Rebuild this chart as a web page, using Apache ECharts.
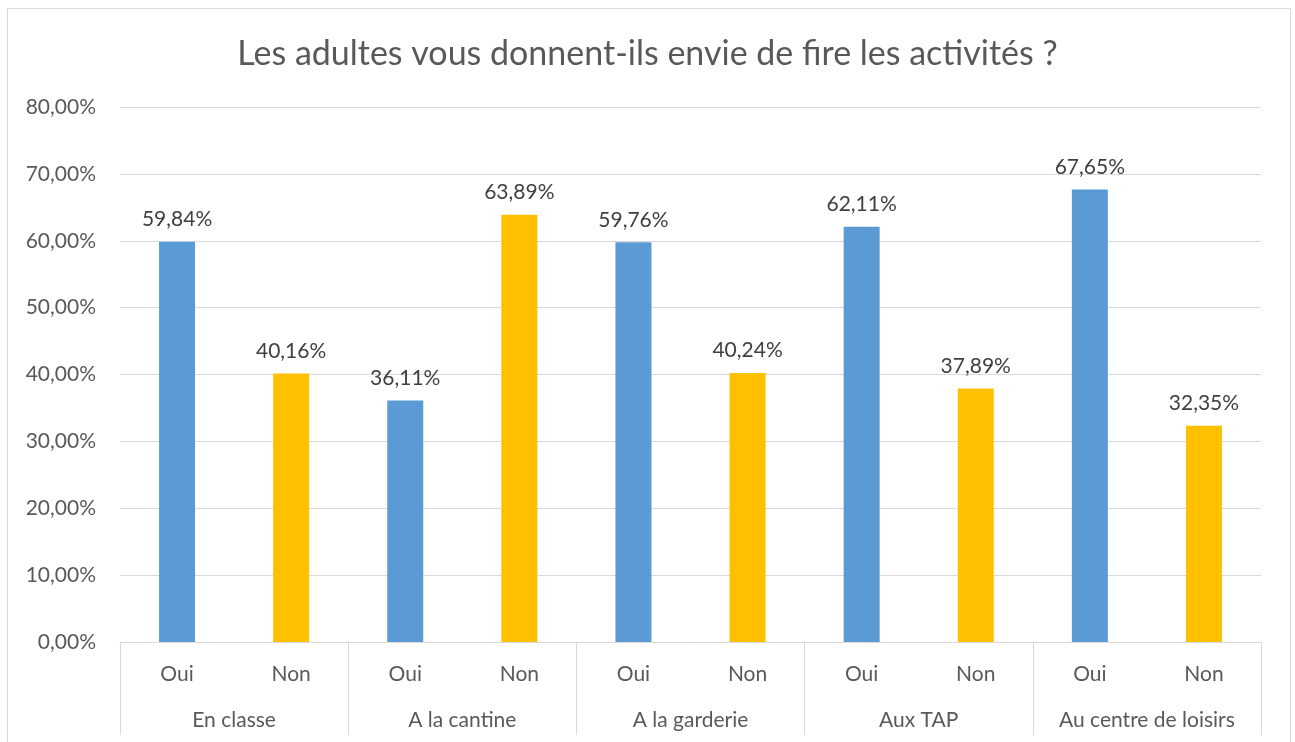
<!DOCTYPE html>
<html>
<head>
<meta charset="utf-8">
<script src="https://cdn.jsdelivr.net/npm/echarts@6/dist/echarts.min.js"></script>
<style>
html,body{margin:0;padding:0;background:#fff;}
#chart{width:1295px;height:742px;}
</style>
</head>
<body>
<div id="chart"></div>
<script>
const titleText = "Les adultes vous donnent-ils envie de fire les activités ?";
const answers = ["Oui","Non","Oui","Non","Oui","Non","Oui","Non","Oui","Non"];
const groups = ["En classe","A la cantine","A la garderie","Aux TAP","Au centre de loisirs"];
const values = [59.84,40.16,36.11,63.89,59.76,40.24,62.11,37.89,67.65,32.35];
const yTicks = {min:0,max:80,interval:10};

const fmt = v => v.toFixed(2).replace('.',',') + '%';
const FONT = 'Lato';
const chart = echarts.init(document.getElementById('chart'));
chart.setOption({
  animation:false,
  backgroundColor:'#fff',
  textStyle:{fontFamily:FONT},
  title:{text:titleText,left:'center',top:32,
    textStyle:{fontFamily:FONT,fontSize:34,fontWeight:'normal',color:'#595959'}},
  graphic:[{type:'rect',shape:{x:7.5,y:8.5,width:1283,height:745},
    style:{fill:'none',stroke:'#d9d9d9',lineWidth:1},silent:true}],
  grid:{left:120,right:34,top:107,bottom:100,containLabel:false},
  xAxis:[{
    type:'category',data:answers,
    axisLine:{show:true,lineStyle:{color:'#d9d9d9',width:1}},
    axisTick:{show:false},
    axisLabel:{interval:0,margin:22,fontSize:21,color:'#595959',fontFamily:FONT}
  },{
    type:'category',data:groups,position:'bottom',
    axisLine:{show:false},
    axisTick:{show:true,interval:0,length:93,lineStyle:{color:'#d9d9d9',width:1}},
    axisLabel:{interval:0,margin:68,fontSize:21,color:'#595959',fontFamily:FONT}
  }],
  yAxis:{
    type:'value',min:yTicks.min,max:yTicks.max,interval:yTicks.interval,
    axisLine:{show:false},axisTick:{show:false},
    splitLine:{lineStyle:{color:'#d9d9d9',width:1}},
    axisLabel:{margin:24,fontSize:21,color:'#595959',fontFamily:FONT,formatter:fmt}
  },
  series:[{
    type:'bar',xAxisIndex:0,data:values,barWidth:36,
    itemStyle:{color:p => p.dataIndex % 2 === 0 ? '#5B9BD5' : '#FFC000'},
    label:{show:true,position:'top',distance:12,fontSize:21,color:'#404040',fontFamily:FONT,
      formatter:p => fmt(p.value)}
  }]
});
</script>
</body>
</html>
